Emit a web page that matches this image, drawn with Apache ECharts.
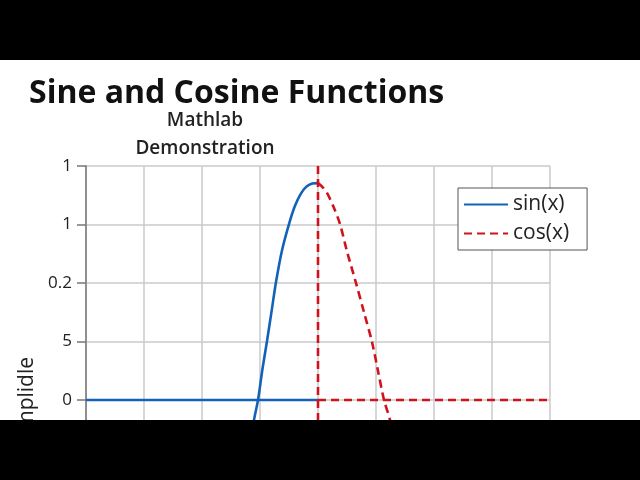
<!DOCTYPE html>
<html><head><meta charset="utf-8">
<script src="https://cdn.jsdelivr.net/npm/echarts@6/dist/echarts.min.js"></script>
<style>
html,body{margin:0;padding:0;background:#000;width:640px;height:480px;overflow:hidden}
#frame{position:absolute;left:0;top:60px;width:640px;height:360px;overflow:hidden;background:#fff}
#chart{position:absolute;left:0;top:0;width:640px;height:640px}
</style></head><body>
<div id="frame"><div id="chart"></div></div>
<script>
const titleText = 'Sine and Cosine Functions';
const subtitleText = 'Mathlab\nDemonstration';
const yAxisName = 'Amplidle';
const seriesNames = ['sin(x)', 'cos(x)'];
const xMin = 0, xMax = 8, xStep = 1;
const yMin = -1, yMax = 1, yStep = 0.25;
const yTickValues = [1, 0.75, 0.5, 0.25, 0, -0.25, -0.5, -0.75, -1];
const yTickLabels = ['1', '1', '0.2', '5', '0', '-5', '-0.2', '-1', '-1'];

// sin(x): flat part and rising curve
const sinFlatX = [0, 4];
const sinFlatY = [0, 0];
const sinCurveX = [2.83, 2.897, 2.966, 3.04, 3.121, 3.2, 3.276, 3.38, 3.5, 3.6, 3.7, 3.8, 3.9, 4.0];
const sinCurveY = [-0.2, -0.085, 0, 0.128, 0.252, 0.38, 0.504, 0.64, 0.752, 0.828, 0.88, 0.912, 0.925, 0.927];

// cos(x): vertical dashed, falling curve, flat dashed
const cosVertX = [4, 4];
const cosVertY = [1, -1];
const cosCurveX = [4.0, 4.07, 4.155, 4.26, 4.379, 4.5, 4.655, 4.793, 4.931, 5.034, 5.138, 5.241, 5.33];
const cosCurveY = [0.927, 0.912, 0.885, 0.83, 0.752, 0.635, 0.5, 0.375, 0.248, 0.125, 0.0, -0.085, -0.19];
const cosFlatX = [4, 8];
const cosFlatY = [0, 0];

const zip = (xs, ys) => xs.map((x, i) => [x, ys[i]]);
const blue = '#1262b8', red = '#d0121c';
const font = "'Open Sans', 'Noto Sans', sans-serif";

const sinStyle = { color: blue, width: 2.6, type: 'solid' };
const cosStyle = { color: red, width: 2.6, type: [8, 5] };

const chart = echarts.init(document.getElementById('chart'));
chart.setOption({
  animation: false,
  backgroundColor: '#fff',
  title: [
    { text: titleText, left: 29, top: 18, padding: 0,
      textStyle: { fontFamily: font, fontSize: 32, fontWeight: 'bold', color: '#111' } },
    { text: subtitleText, left: 205, top: 47, padding: 0, textAlign: 'center',
      textStyle: { fontFamily: font, fontSize: 19, fontWeight: 600, color: '#222', lineHeight: 28 } }
  ],
  legend: {
    data: seriesNames,
    orient: 'vertical', left: 458, top: 128,
    padding: [6, 18, 6, 5], itemGap: 8, itemWidth: 44, itemHeight: 20,
    borderColor: '#555', borderWidth: 1, backgroundColor: '#fff',
    itemStyle: { opacity: 0 },
    textStyle: { fontFamily: font, fontSize: 21, color: '#222' }
  },
  grid: { left: 86, right: 90, top: 106, bottom: 66 },
  xAxis: {
    type: 'value', min: xMin, max: xMax, interval: xStep,
    axisLine: { onZero: false, lineStyle: { color: '#777', width: 1.5 } },
    axisTick: { show: false },
    axisLabel: { show: false },
    splitLine: { show: true, lineStyle: { color: '#cacaca', width: 1.5 } }
  },
  yAxis: {
    type: 'value', min: yMin, max: yMax, interval: yStep,
    name: yAxisName, nameLocation: 'middle', nameGap: 48, nameMoveOverlap: false,
    nameTextStyle: { fontFamily: font, fontSize: 21, color: '#222' },
    axisLine: { show: true, lineStyle: { color: '#777', width: 1.5 } },
    axisTick: { show: true, length: 9, lineStyle: { color: '#777', width: 1.5 } },
    axisLabel: {
      margin: 14, fontFamily: font, fontSize: 17, color: '#222',
      formatter: v => { const i = yTickValues.findIndex(t => Math.abs(t - v) < 1e-9); return i >= 0 ? yTickLabels[i] : ''; }
    },
    splitLine: { show: true, lineStyle: { color: '#cacaca', width: 1.5 } }
  },
  series: [
    { name: seriesNames[0], type: 'line', symbol: 'none', lineStyle: sinStyle, color: blue, data: zip(sinFlatX, sinFlatY) },
    { name: seriesNames[0], type: 'line', symbol: 'none', smooth: 0.3, lineStyle: sinStyle, color: blue, data: zip(sinCurveX, sinCurveY) },
    { name: seriesNames[1], type: 'line', symbol: 'none', lineStyle: cosStyle, color: red, data: zip(cosVertX, cosVertY), z: 3 },
    { name: seriesNames[1], type: 'line', symbol: 'none', smooth: 0.3, lineStyle: cosStyle, color: red, data: zip(cosCurveX, cosCurveY), z: 3 },
    { name: seriesNames[1], type: 'line', symbol: 'none', lineStyle: cosStyle, color: red, data: zip(cosFlatX, cosFlatY), z: 3 }
  ]
});
</script>
</body></html>
